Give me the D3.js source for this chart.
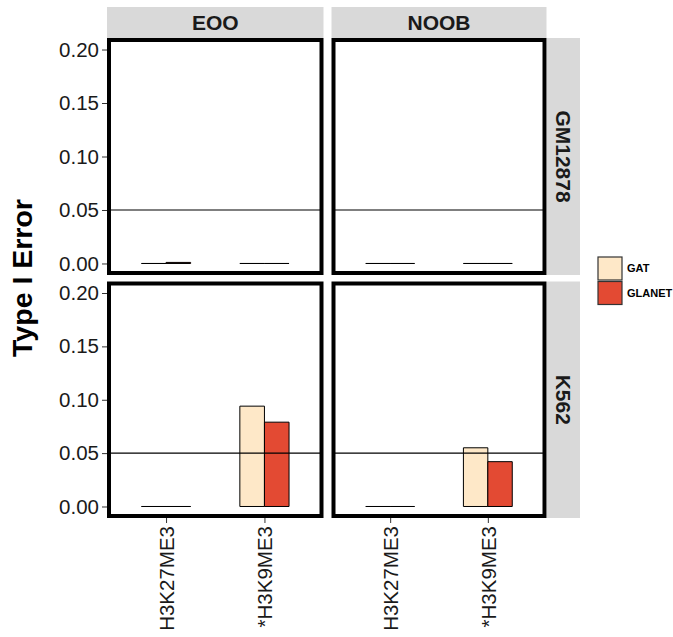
<!DOCTYPE html>
<meta charset="utf-8">
<head>
  <style>
    html, body { margin: 0; padding: 0; background: #fff; }
    svg { display: block; font-family: "Liberation Sans", Arial, Helvetica, sans-serif; }
  </style>
</head>
<script src="https://cdn.jsdelivr.net/npm/d3@7/dist/d3.min.js"></script>
<body>
<script>
  // data
  var methods = ["EOO", "NOOB"];          // column facets
  var cellLines = ["GM12878", "K562"];    // row facets
  var marks = ["H3K27ME3", "*H3K9ME3"];   // x categories
  var tools = ["GAT", "GLANET"];          // fill
  var toolColors = ["#fee8c8", "#e34a33"];
  var yTicks = [0, 0.05, 0.10, 0.15, 0.20];
  // per mark: [GAT, GLANET]
  var gm12878_EOO = [[0, 0.001], [0, 0]];
  var gm12878_NOOB = [[0, 0], [0, 0]];
  var k562_EOO = [[0, 0], [0.094, 0.079]];
  var k562_NOOB = [[0, 0], [0.055, 0.042]];
  var cutoff = 0.05;

  var values = {
    GM12878: { EOO: gm12878_EOO, NOOB: gm12878_NOOB },
    K562: { EOO: k562_EOO, NOOB: k562_NOOB }
  };

  var W = 673, H = 637;
  var svg = d3.select("body").append("svg").attr("width", W).attr("height", H);

  var colX = [[109, 321.5], [333.5, 544.5]];
  var rowY = [[40, 273], [283.5, 516]];

  var color = d3.scaleOrdinal().domain(tools).range(toolColors);
  var fontFam = "'Liberation Sans', Arial, sans-serif";

  methods.forEach(function(m, ci) {
    // column strip
    var sx0 = colX[ci][0] - 2, sx1 = colX[ci][1] + 2;
    svg.append("rect").attr("x", sx0).attr("y", 7).attr("width", sx1 - sx0).attr("height", 31)
      .attr("fill", "#d9d9d9");
    svg.append("text").attr("x", (sx0 + sx1) / 2).attr("y", 23).attr("dy", "0.35em")
      .attr("text-anchor", "middle").attr("font-size", 21).attr("font-weight", "bold")
      .attr("fill", "#1a1a1a").text(m);
  });

  cellLines.forEach(function(c, ri) {
    var sy0 = rowY[ri][0] - 2, sy1 = rowY[ri][1] + 2;
    svg.append("rect").attr("x", 547).attr("y", sy0).attr("width", 33).attr("height", sy1 - sy0)
      .attr("fill", "#d9d9d9");
    var cy = (sy0 + sy1) / 2;
    svg.append("text").attr("transform", "translate(563," + cy + ") rotate(90)")
      .attr("dy", "0.35em").attr("text-anchor", "middle").attr("font-size", 21)
      .attr("font-weight", "bold").attr("fill", "#1a1a1a").text(c);
  });

  cellLines.forEach(function(c, ri) {
    methods.forEach(function(m, ci) {
      var x = d3.scaleLinear().domain([0.42, 2.58]).range(colX[ci]);
      var y = d3.scaleLinear().domain([-0.0089, 0.2089]).range([rowY[ri][1], rowY[ri][0]]);
      var g = svg.append("g");
      var bw = x(1.25) - x(1);

      values[c][m].forEach(function(pair, mi) {
        pair.forEach(function(v, ti) {
          var x0 = x(mi + 1) - bw + ti * bw;
          var p = d3.path();
          p.moveTo(x0, y(0));
          p.lineTo(x0, y(v));
          p.lineTo(x0 + bw, y(v));
          p.lineTo(x0 + bw, y(0));
          p.closePath();
          g.append("path").attr("d", p.toString())
            .attr("fill", color(tools[ti]))
            .attr("stroke", "#000").attr("stroke-width", 1);
        });
      });

      g.append("line").attr("x1", colX[ci][0]).attr("x2", colX[ci][1])
        .attr("y1", y(cutoff)).attr("y2", y(cutoff))
        .attr("stroke", "#000").attr("stroke-width", 1.2);

      g.append("rect").attr("x", colX[ci][0]).attr("y", rowY[ri][0])
        .attr("width", colX[ci][1] - colX[ci][0]).attr("height", rowY[ri][1] - rowY[ri][0])
        .attr("fill", "none").attr("stroke", "#000").attr("stroke-width", 4);

      if (ci === 0) {
        var ya = svg.append("g").attr("transform", "translate(" + (colX[0][0] - 2) + ",0)")
          .call(d3.axisLeft(y).tickValues(yTicks).tickFormat(d3.format(".2f")).tickSize(5).tickPadding(3));
        ya.select(".domain").remove();
        ya.selectAll(".tick line").attr("stroke", "#333");
        ya.selectAll("text").attr("font-size", 20.5).attr("fill", "#1a1a1a")
          .style("font-family", fontFam);
      }

      if (ri === 1) {
        var xa = svg.append("g").attr("transform", "translate(0," + (rowY[1][1] + 2) + ")")
          .call(d3.axisBottom(x).tickValues([1, 2]).tickFormat(function(d) { return marks[d - 1]; })
            .tickSize(5).tickPadding(3));
        xa.select(".domain").remove();
        xa.selectAll(".tick line").attr("stroke", "#333");
        xa.selectAll("text").attr("font-size", 20.5).attr("fill", "#1a1a1a")
          .style("font-family", fontFam)
          .attr("transform", "rotate(-90)").attr("text-anchor", "end")
          .attr("x", -8).attr("y", 0).attr("dy", "0.35em");
      }
    });
  });

  // y title
  svg.append("text").attr("transform", "translate(22,278) rotate(-90)")
    .attr("dy", "0.35em").attr("text-anchor", "middle").attr("font-size", 28.5)
    .attr("font-weight", "bold").attr("fill", "#000").text("Type I Error");

  // legend
  var leg = svg.append("g").attr("transform", "translate(598,257)");
  tools.forEach(function(t, i) {
    leg.append("rect").attr("x", 0).attr("y", i * 24.5).attr("width", 24).attr("height", 23)
      .attr("fill", color(t)).attr("stroke", "#333").attr("stroke-width", 1.2);
    leg.append("text").attr("x", 29).attr("y", i * 24.5 + 11.5).attr("dy", "0.35em")
      .attr("font-size", 11).attr("font-weight", "bold").attr("fill", "#000").text(t);
  });
</script>
</body>
